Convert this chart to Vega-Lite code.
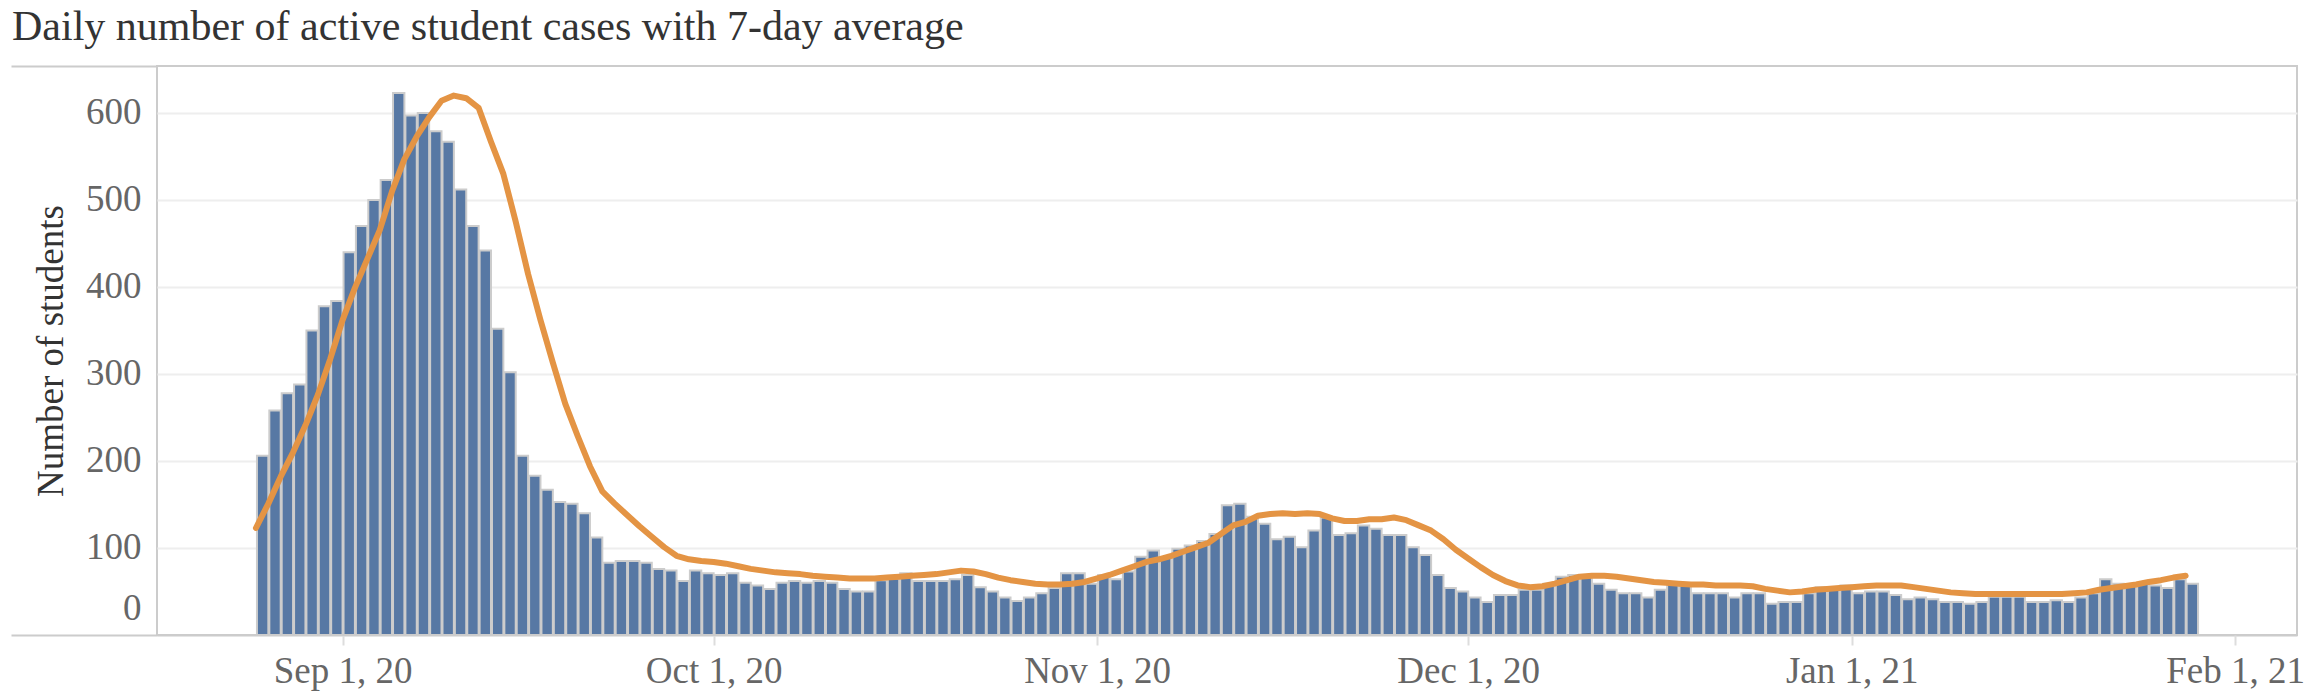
{
  "$schema": "https://vega.github.io/schema/vega-lite/v6.json",
  "width": 2140,
  "height": 569,
  "autosize": {"type": "none"},
  "padding": {"left": 157, "top": 66, "right": 9, "bottom": 61},
  "background": "white",
  "title": {
    "text": "Daily number of active student cases with 7-day average",
    "anchor": "start",
    "frame": "group",
    "dx": -145,
    "offset": 16,
    "fontSize": 42,
    "font": "Liberation Serif",
    "fontWeight": "normal",
    "color": "#333333"
  },
  "config": {
    "font": "Liberation Serif",
    "view": {"stroke": "#cccccc", "strokeWidth": 2}
  },
  "data": {
    "values": [
      {"date": "2020-08-25", "cases": 206, "avg": 123},
      {"date": "2020-08-26", "cases": 258, "avg": 151},
      {"date": "2020-08-27", "cases": 278, "avg": 182},
      {"date": "2020-08-28", "cases": 288, "avg": 210},
      {"date": "2020-08-29", "cases": 350, "avg": 241},
      {"date": "2020-08-30", "cases": 378, "avg": 276},
      {"date": "2020-08-31", "cases": 384, "avg": 317},
      {"date": "2020-09-01", "cases": 440, "avg": 362},
      {"date": "2020-09-02", "cases": 470, "avg": 399},
      {"date": "2020-09-03", "cases": 500, "avg": 432},
      {"date": "2020-09-04", "cases": 523, "avg": 465},
      {"date": "2020-09-05", "cases": 623, "avg": 510},
      {"date": "2020-09-06", "cases": 597, "avg": 547},
      {"date": "2020-09-07", "cases": 600, "avg": 573},
      {"date": "2020-09-08", "cases": 579, "avg": 595},
      {"date": "2020-09-09", "cases": 567, "avg": 614},
      {"date": "2020-09-10", "cases": 512, "avg": 620},
      {"date": "2020-09-11", "cases": 470, "avg": 617},
      {"date": "2020-09-12", "cases": 442, "avg": 606},
      {"date": "2020-09-13", "cases": 352, "avg": 567},
      {"date": "2020-09-14", "cases": 302, "avg": 530},
      {"date": "2020-09-15", "cases": 206, "avg": 475},
      {"date": "2020-09-16", "cases": 183, "avg": 415},
      {"date": "2020-09-17", "cases": 167, "avg": 362},
      {"date": "2020-09-18", "cases": 153, "avg": 313},
      {"date": "2020-09-19", "cases": 151, "avg": 266},
      {"date": "2020-09-20", "cases": 140, "avg": 229},
      {"date": "2020-09-21", "cases": 112, "avg": 194},
      {"date": "2020-09-22", "cases": 83, "avg": 165},
      {"date": "2020-09-23", "cases": 85, "avg": 151},
      {"date": "2020-09-24", "cases": 85, "avg": 138},
      {"date": "2020-09-25", "cases": 83, "avg": 125},
      {"date": "2020-09-26", "cases": 76, "avg": 113},
      {"date": "2020-09-27", "cases": 74, "avg": 101},
      {"date": "2020-09-28", "cases": 62, "avg": 91},
      {"date": "2020-09-29", "cases": 74, "avg": 87},
      {"date": "2020-09-30", "cases": 71, "avg": 85},
      {"date": "2020-10-01", "cases": 69, "avg": 84},
      {"date": "2020-10-02", "cases": 71, "avg": 82},
      {"date": "2020-10-03", "cases": 60, "avg": 79},
      {"date": "2020-10-04", "cases": 57, "avg": 76},
      {"date": "2020-10-05", "cases": 53, "avg": 74},
      {"date": "2020-10-06", "cases": 60, "avg": 72},
      {"date": "2020-10-07", "cases": 62, "avg": 71},
      {"date": "2020-10-08", "cases": 60, "avg": 70},
      {"date": "2020-10-09", "cases": 62, "avg": 68},
      {"date": "2020-10-10", "cases": 60, "avg": 67},
      {"date": "2020-10-11", "cases": 53, "avg": 66},
      {"date": "2020-10-12", "cases": 50, "avg": 65},
      {"date": "2020-10-13", "cases": 50, "avg": 65},
      {"date": "2020-10-14", "cases": 63, "avg": 65},
      {"date": "2020-10-15", "cases": 65, "avg": 66},
      {"date": "2020-10-16", "cases": 71, "avg": 67},
      {"date": "2020-10-17", "cases": 62, "avg": 68},
      {"date": "2020-10-18", "cases": 62, "avg": 69},
      {"date": "2020-10-19", "cases": 62, "avg": 70},
      {"date": "2020-10-20", "cases": 64, "avg": 72},
      {"date": "2020-10-21", "cases": 69, "avg": 74},
      {"date": "2020-10-22", "cases": 55, "avg": 73},
      {"date": "2020-10-23", "cases": 50, "avg": 70},
      {"date": "2020-10-24", "cases": 43, "avg": 66},
      {"date": "2020-10-25", "cases": 39, "avg": 63},
      {"date": "2020-10-26", "cases": 43, "avg": 61},
      {"date": "2020-10-27", "cases": 48, "avg": 59},
      {"date": "2020-10-28", "cases": 54, "avg": 58},
      {"date": "2020-10-29", "cases": 71, "avg": 58},
      {"date": "2020-10-30", "cases": 71, "avg": 59},
      {"date": "2020-10-31", "cases": 59, "avg": 61},
      {"date": "2020-11-01", "cases": 69, "avg": 65},
      {"date": "2020-11-02", "cases": 64, "avg": 69},
      {"date": "2020-11-03", "cases": 73, "avg": 74},
      {"date": "2020-11-04", "cases": 90, "avg": 79},
      {"date": "2020-11-05", "cases": 97, "avg": 84},
      {"date": "2020-11-06", "cases": 89, "avg": 87},
      {"date": "2020-11-07", "cases": 99, "avg": 91},
      {"date": "2020-11-08", "cases": 103, "avg": 96},
      {"date": "2020-11-09", "cases": 108, "avg": 101},
      {"date": "2020-11-10", "cases": 116, "avg": 106},
      {"date": "2020-11-11", "cases": 149, "avg": 116},
      {"date": "2020-11-12", "cases": 151, "avg": 126},
      {"date": "2020-11-13", "cases": 136, "avg": 130},
      {"date": "2020-11-14", "cases": 128, "avg": 137},
      {"date": "2020-11-15", "cases": 110, "avg": 139},
      {"date": "2020-11-16", "cases": 113, "avg": 140},
      {"date": "2020-11-17", "cases": 101, "avg": 139},
      {"date": "2020-11-18", "cases": 120, "avg": 140},
      {"date": "2020-11-19", "cases": 135, "avg": 139},
      {"date": "2020-11-20", "cases": 115, "avg": 134},
      {"date": "2020-11-21", "cases": 117, "avg": 131},
      {"date": "2020-11-22", "cases": 126, "avg": 131},
      {"date": "2020-11-23", "cases": 122, "avg": 133},
      {"date": "2020-11-24", "cases": 115, "avg": 133},
      {"date": "2020-11-25", "cases": 115, "avg": 135},
      {"date": "2020-11-26", "cases": 101, "avg": 132},
      {"date": "2020-11-27", "cases": 92, "avg": 126},
      {"date": "2020-11-28", "cases": 69, "avg": 120},
      {"date": "2020-11-29", "cases": 54, "avg": 110},
      {"date": "2020-11-30", "cases": 50, "avg": 98},
      {"date": "2020-12-01", "cases": 43, "avg": 88},
      {"date": "2020-12-02", "cases": 38, "avg": 78},
      {"date": "2020-12-03", "cases": 46, "avg": 69},
      {"date": "2020-12-04", "cases": 46, "avg": 62},
      {"date": "2020-12-05", "cases": 52, "avg": 57},
      {"date": "2020-12-06", "cases": 52, "avg": 55},
      {"date": "2020-12-07", "cases": 59, "avg": 56},
      {"date": "2020-12-08", "cases": 67, "avg": 59},
      {"date": "2020-12-09", "cases": 69, "avg": 63},
      {"date": "2020-12-10", "cases": 67, "avg": 67},
      {"date": "2020-12-11", "cases": 59, "avg": 68},
      {"date": "2020-12-12", "cases": 52, "avg": 68},
      {"date": "2020-12-13", "cases": 48, "avg": 67},
      {"date": "2020-12-14", "cases": 48, "avg": 65},
      {"date": "2020-12-15", "cases": 43, "avg": 63},
      {"date": "2020-12-16", "cases": 52, "avg": 61},
      {"date": "2020-12-17", "cases": 59, "avg": 60},
      {"date": "2020-12-18", "cases": 57, "avg": 59},
      {"date": "2020-12-19", "cases": 48, "avg": 58},
      {"date": "2020-12-20", "cases": 48, "avg": 58},
      {"date": "2020-12-21", "cases": 48, "avg": 57},
      {"date": "2020-12-22", "cases": 43, "avg": 57},
      {"date": "2020-12-23", "cases": 48, "avg": 57},
      {"date": "2020-12-24", "cases": 48, "avg": 56},
      {"date": "2020-12-25", "cases": 36, "avg": 53},
      {"date": "2020-12-26", "cases": 38, "avg": 51},
      {"date": "2020-12-27", "cases": 38, "avg": 49},
      {"date": "2020-12-28", "cases": 48, "avg": 50},
      {"date": "2020-12-29", "cases": 55, "avg": 52},
      {"date": "2020-12-30", "cases": 55, "avg": 53},
      {"date": "2020-12-31", "cases": 57, "avg": 54},
      {"date": "2021-01-01", "cases": 48, "avg": 55},
      {"date": "2021-01-02", "cases": 50, "avg": 56},
      {"date": "2021-01-03", "cases": 50, "avg": 57},
      {"date": "2021-01-04", "cases": 46, "avg": 57},
      {"date": "2021-01-05", "cases": 41, "avg": 57},
      {"date": "2021-01-06", "cases": 43, "avg": 55},
      {"date": "2021-01-07", "cases": 41, "avg": 53},
      {"date": "2021-01-08", "cases": 38, "avg": 51},
      {"date": "2021-01-09", "cases": 38, "avg": 49},
      {"date": "2021-01-10", "cases": 36, "avg": 48},
      {"date": "2021-01-11", "cases": 38, "avg": 47},
      {"date": "2021-01-12", "cases": 44, "avg": 47},
      {"date": "2021-01-13", "cases": 44, "avg": 47},
      {"date": "2021-01-14", "cases": 44, "avg": 47},
      {"date": "2021-01-15", "cases": 38, "avg": 47},
      {"date": "2021-01-16", "cases": 38, "avg": 47},
      {"date": "2021-01-17", "cases": 40, "avg": 47},
      {"date": "2021-01-18", "cases": 38, "avg": 47},
      {"date": "2021-01-19", "cases": 43, "avg": 48},
      {"date": "2021-01-20", "cases": 48, "avg": 49},
      {"date": "2021-01-21", "cases": 64, "avg": 52},
      {"date": "2021-01-22", "cases": 59, "avg": 54},
      {"date": "2021-01-23", "cases": 57, "avg": 56},
      {"date": "2021-01-24", "cases": 59, "avg": 58},
      {"date": "2021-01-25", "cases": 57, "avg": 61},
      {"date": "2021-01-26", "cases": 54, "avg": 63},
      {"date": "2021-01-27", "cases": 64, "avg": 66},
      {"date": "2021-01-28", "cases": 59, "avg": 68}
    ]
  },
  "layer": [
    {
      "mark": {"type": "bar", "fill": "#5778a4", "stroke": "#cccccc", "strokeWidth": 2},
      "encoding": {
        "x": {
          "field": "date",
          "timeUnit": "utcyearmonthdate",
          "type": "temporal",
          "scale": {
            "type": "utc",
            "nice": false,
            "domain": [
              {"year": 2020, "month": 8, "date": 17, "utc": true},
              {"year": 2021, "month": 2, "date": 6, "utc": true}
            ]
          },
          "axis": {
            "title": null,
            "values": [
              {"year": 2020, "month": 9, "date": 1, "utc": true},
              {"year": 2020, "month": 10, "date": 1, "utc": true},
              {"year": 2020, "month": 11, "date": 1, "utc": true},
              {"year": 2020, "month": 12, "date": 1, "utc": true},
              {"year": 2021, "month": 1, "date": 1, "utc": true},
              {"year": 2021, "month": 2, "date": 1, "utc": true}
            ],
            "labelExpr": "utcFormat(datum.value, '%b ') + utcdate(datum.value) + utcFormat(datum.value, ', %y')",
            "labelLimit": 0,
            "grid": false,
            "domain": false,
            "ticks": true,
            "tickColor": "#dddddd",
            "tickSize": 10,
            "tickWidth": 2,
            "labelFlush": false,
            "labelFont": "Liberation Serif",
            "labelFontSize": 37,
            "labelColor": "#666666",
            "labelPadding": 8
          }
        },
        "y": {
          "field": "cases",
          "type": "quantitative",
          "scale": {"domain": [0, 654], "nice": false},
          "axis": {
            "values": [0, 100, 200, 300, 400, 500, 600],
            "grid": true,
            "gridColor": {"condition": {"test": "datum.value === 0", "value": "#cccccc"}, "value": "#eeeeee"},
            "gridWidth": 2,
            "domain": false,
            "ticks": false,
            "labelFlush": true,
            "labelFlushOffset": -8,
            "labelPadding": 16,
            "labelFont": "Liberation Serif",
            "labelFontSize": 37,
            "labelColor": "#666666",
            "title": "Number of students",
            "titleFont": "Liberation Serif",
            "titleFontSize": 37,
            "titleFontWeight": "normal",
            "titleColor": "#333333",
            "titlePadding": 15
          }
        }
      }
    },
    {
      "mark": {"type": "line", "color": "#e49444", "strokeWidth": 6, "strokeCap": "round", "strokeJoin": "round"},
      "encoding": {
        "x": {"field": "date", "type": "temporal"},
        "y": {
          "field": "avg",
          "type": "quantitative",
          "axis": {
            "orient": "left",
            "values": [0, 654],
            "tickSize": 146,
            "tickColor": "#cccccc",
            "tickWidth": 2,
            "labels": false,
            "domain": false,
            "grid": false,
            "title": null
          }
        }
      }
    }
  ],
  "resolve": {"axis": {"y": "independent"}}
}
